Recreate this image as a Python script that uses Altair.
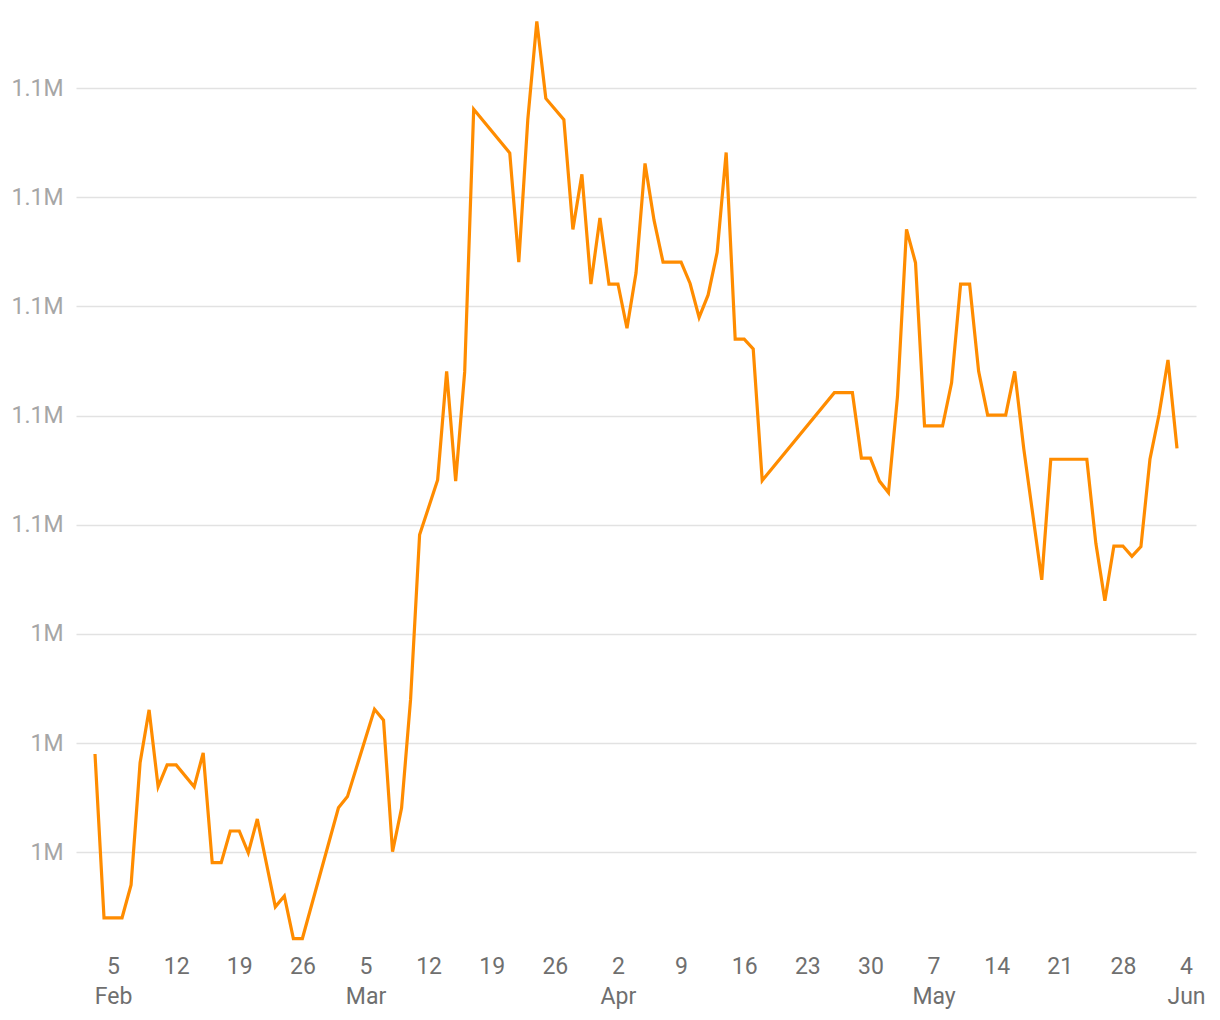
import altair as alt
import pandas as pd

# ---- data ----
dates = [
    "2018-02-03", "2018-02-04", "2018-02-05", "2018-02-06", "2018-02-07", "2018-02-08",
    "2018-02-09", "2018-02-10", "2018-02-11", "2018-02-12", "2018-02-14", "2018-02-15",
    "2018-02-16", "2018-02-17", "2018-02-18", "2018-02-19", "2018-02-20", "2018-02-21",
    "2018-02-23", "2018-02-24", "2018-02-25", "2018-02-26",
    "2018-03-02", "2018-03-03", "2018-03-06", "2018-03-07", "2018-03-08", "2018-03-09",
    "2018-03-10", "2018-03-11", "2018-03-13", "2018-03-14", "2018-03-15", "2018-03-16",
    "2018-03-17", "2018-03-21", "2018-03-22", "2018-03-23", "2018-03-24", "2018-03-25",
    "2018-03-27", "2018-03-28", "2018-03-29", "2018-03-30", "2018-03-31",
    "2018-04-01", "2018-04-02", "2018-04-03", "2018-04-04", "2018-04-05", "2018-04-06",
    "2018-04-07", "2018-04-08", "2018-04-09", "2018-04-10", "2018-04-11", "2018-04-12",
    "2018-04-13", "2018-04-14", "2018-04-15", "2018-04-16", "2018-04-17", "2018-04-18",
    "2018-04-26", "2018-04-27", "2018-04-28", "2018-04-29", "2018-04-30",
    "2018-05-01", "2018-05-02", "2018-05-03", "2018-05-04", "2018-05-05", "2018-05-06",
    "2018-05-07", "2018-05-08", "2018-05-09", "2018-05-10", "2018-05-11", "2018-05-12",
    "2018-05-13", "2018-05-14", "2018-05-15", "2018-05-16", "2018-05-17", "2018-05-19",
    "2018-05-20", "2018-05-21", "2018-05-22", "2018-05-23", "2018-05-24", "2018-05-25",
    "2018-05-26", "2018-05-27", "2018-05-28", "2018-05-29", "2018-05-30", "2018-05-31",
    "2018-06-01", "2018-06-02", "2018-06-03",
]
values = [
    1018000, 988000, 988000, 988000, 994000, 1016400,
    1026100, 1012000, 1016000, 1016000, 1012000, 1018200,
    998100, 998100, 1003900, 1003900, 999900, 1006100,
    990000, 992000, 984200, 984200,
    1008150, 1010200, 1026200, 1024200, 1000100, 1008100,
    1028000, 1058150, 1068200, 1088100, 1068000, 1088000,
    1136100, 1128100, 1108100, 1134200, 1152200, 1138100,
    1134200, 1114100, 1124200, 1104100, 1116200,
    1104100, 1104100, 1096000, 1106100, 1126200, 1115800,
    1108100, 1108100, 1108100, 1104200, 1098000, 1102100,
    1109900, 1128200, 1094000, 1094000, 1092200, 1068100,
    1084200, 1084200, 1084200, 1072200, 1072200,
    1068000, 1065900, 1083500, 1114100, 1108000, 1078100,
    1078100, 1078100, 1086000, 1104100, 1104100, 1088100,
    1080100, 1080100, 1080100, 1088100, 1074000, 1049900,
    1072000, 1072000, 1072000, 1072000, 1072000, 1056600,
    1046100, 1056100, 1056100, 1054200, 1056000, 1072000,
    1080100, 1090200, 1074000,
]

x_tick_dates = [
    "2018-02-05", "2018-02-12", "2018-02-19", "2018-02-26",
    "2018-03-05", "2018-03-12", "2018-03-19", "2018-03-26",
    "2018-04-02", "2018-04-09", "2018-04-16", "2018-04-23", "2018-04-30",
    "2018-05-07", "2018-05-14", "2018-05-21", "2018-05-28", "2018-06-04",
]
y_tick_values = [1000000, 1020000, 1040000, 1060000, 1080000, 1100000, 1120000, 1140000]
y_domain = [982100, 1154300]

df = pd.DataFrame({"date": dates, "value": values})
x_tick_ms = [int(pd.Timestamp(d, tz="UTC").value // 10**6) for d in x_tick_dates]

FONT = "Roboto"

chart = (
    alt.Chart(df)
    .mark_line(color="#FF8C00", strokeWidth=3.2)
    .encode(
        x=alt.X(
            "date:T",
            title=None,
            scale=alt.Scale(type="utc", padding=19, nice=False),
            axis=alt.Axis(
                values=x_tick_ms,
                labelExpr="utcdate(datum.value) <= 7 ? [utcFormat(datum.value, '%-d'), utcFormat(datum.value, '%b')] : [utcFormat(datum.value, '%-d')]",
                grid=False,
                domain=False,
                ticks=False,
                tickSize=0,
                labelPadding=5,
                labelFont=FONT,
                labelFontSize=23,
                labelLineHeight=30,
                labelColor="#6f6f6f",
                labelOverlap=False,
                labelFlush=False,
                labelBound=False,
            ),
        ),
        y=alt.Y(
            "value:Q",
            title=None,
            scale=alt.Scale(domain=y_domain, nice=False, zero=False),
            axis=alt.Axis(
                values=y_tick_values,
                format=".2~s",
                grid=True,
                gridColor="#e2e2e2",
                gridWidth=1.5,
                domain=False,
                ticks=False,
                tickSize=0,
                labelPadding=13,
                labelFont=FONT,
                labelFontSize=23,
                labelColor="#a6a6a6",
                labelOverlap=False,
            ),
        ),
    )
    .properties(
        width=1120,
        height=940,
        autosize=alt.AutoSizeParams(type="none"),
        padding={"left": 68, "top": 2, "right": 16, "bottom": 62},
    )
    .configure_view(stroke=None)
)

chart.save("out.html", embed_options={"renderer": "svg", "actions": False})
